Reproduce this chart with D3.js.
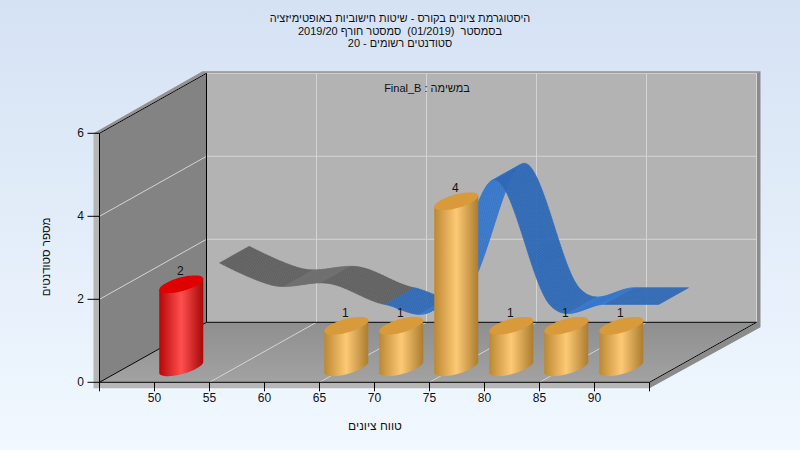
<!DOCTYPE html>
<html><head><meta charset="utf-8">
<script src="https://cdn.jsdelivr.net/npm/d3@7/dist/d3.min.js"></script>
<style>html,body{margin:0;padding:0;background:#eef6ff}svg{display:block}text{font-family:"Liberation Sans",Arial,sans-serif;fill:#111;white-space:pre}</style>
</head><body><svg id="c" width="800" height="450"></svg>
<script>
const categories=[50,55,60,65,70,75,80,85,90];
const barValues=[2,0,0,1,1,4,1,1,1];
const ribbonValues=[2,1.45,1.5,1,1,4,1,1,1];
const xTicks=[50,55,60,65,70,75,80,85,90];
const xTickMarks=[45,50,55,60,65,70,75,80,85,90,95];
const xGrid=[55,65,75,85,95];
const yTicks=[0,2,4,6];
const titleLines=["היסטוגרמת ציונים בקורס - שיטות חישוביות באופטימיזציה","בסמסטר  (01/2019)  סמסטר חורף 2019/20","סטודנטים רשומים - 20"];
const subTitle="במשימה : Final_B";
const xLabel="טווח ציונים";
const yLabel="מספר סטודנטים";

const DX=107,DY=-60;
const x=d3.scaleLinear().domain([45,95]).range([99.5,649.5]);
const y=d3.scaleLinear().domain([0,6]).range([382.3,133.3]);
const P=(v,h,z)=>[x(v)+z*DX,y(h)+z*DY];
const svg=d3.select("#c");
const defs=svg.append("defs");
function grad(id,stops,vert){
  const g=defs.append("linearGradient").attr("id",id).attr("x1",0).attr("y1",0).attr("x2",vert?0:1).attr("y2",vert?1:0);
  stops.forEach(s=>g.append("stop").attr("offset",s[0]).attr("stop-color",s[1]));
}
grad("bg",[[0,"#d5e2f4"],[1,"#f1f8ff"]],true);
grad("floor",[[0,"#8f8f8f"],[1,"#a2a2a2"]],true);
grad("gold",[[0,"#bd8832"],[0.5,"#fdc975"],[1,"#ac7d30"]]);
grad("red",[[0,"#b80606"],[0.5,"#ff4f4f"],[1,"#a80808"]]);
svg.append("rect").attr("width",800).attr("height",450).attr("fill","url(#bg)");
const poly=(pts,fill,stroke)=>svg.append("polygon").attr("points",pts.map(p=>p.join(",")).join(" ")).attr("fill",fill).attr("stroke",stroke||"none");
const seg=(a,b,c,w)=>svg.append("line").attr("x1",a[0]).attr("y1",a[1]).attr("x2",b[0]).attr("y2",b[1]).attr("stroke",c).attr("stroke-width",w||1);

const [x0,x1]=x.domain(),[y0,y1]=[0,6];
// outer frame bands
poly([[x(x0)-6,y(y0)+6],[x(x1),y(y0)+6],[x(x1),y(y0)],[x(x0),y(y0)],[x(x0),y(y1)],[x(x0)-6,y(y1)]],"#b6b6b6");
poly([[x(x0)-6,y(y1)],[P(x0,y1,1)[0]-4,P(x0,y1,1)[1]-2],[P(x1,y1,1)[0]+4,P(x1,y1,1)[1]-2],[P(x1,y1,1)[0],P(x1,y1,1)[1]],[P(x0,y1,1)[0],P(x0,y1,1)[1]],[x(x0),y(y1)]],"#929292");
poly([[P(x1,y1,1)[0],P(x1,y1,1)[1]],[P(x1,y1,1)[0]+4,P(x1,y1,1)[1]-2],[P(x1,y0,1)[0]+4,P(x1,y0,1)[1]+5],[x(x1),y(y0)+6],[x(x1),y(y0)],[P(x1,y0,1)[0],P(x1,y0,1)[1]]],"#8b8b8b");
// walls
poly([P(x0,y0,1),P(x1,y0,1),P(x1,y1,1),P(x0,y1,1)],"#b3b3b3");
poly([P(x0,y0,0),P(x0,y0,1),P(x0,y1,1),P(x0,y1,0)],"#838383");
poly([P(x0,y0,0),P(x1,y0,0),P(x1,y0,1),P(x0,y0,1)],"url(#floor)");
// grid
const gc="#d4d4d4";
yTicks.forEach(t=>{ if(t>0){seg(P(x0,t,1),P(x1,t,1),gc);seg(P(x0,t,0),P(x0,t,1),gc);} });
xGrid.forEach(v=>{seg(P(v,0,1),P(v,y1,1),gc);seg(P(v,0,0),P(v,0,1),gc);});
// wall edges
seg(P(x0,y0,1),P(x1,y0,1),"#000");
seg(P(x0,y0,1),P(x0,y1,1),"#000");
seg(P(x0,y1,0),P(x0,y1,1),"#000");
seg(P(x0,y0,0),P(x0,y0,1),"#000");
seg(P(x1,y0,0),P(x1,y0,1),"#000");
seg(P(x0,y0,0),P(x0,y1,0),"#000");
seg(P(x0,y0,0),P(x1,y0,0),"#000");
// axes ticks
xTickMarks.forEach(v=>seg([x(v),y(0)],[x(v),y(0)+9],"#000"));
yTicks.forEach(t=>seg([x(x0)-12,y(t)],[x(x0),y(t)],"#000"));
xTicks.forEach(v=>svg.append("text").attr("x",x(v)).attr("y",402).attr("text-anchor","middle").attr("font-size",12).text(v));
yTicks.forEach(t=>svg.append("text").attr("x",84).attr("y",y(t)+3.5).attr("text-anchor","end").attr("font-size",12).text(t));
// ribbon
const zF=0.607,zB=0.885;
const lineGen=d3.line().curve(d3.curveCardinal.tension(0));
const front=categories.map((c,i)=>P(c,ribbonValues[i],zF));
const tmp=svg.append("path").attr("d",lineGen(front)).attr("fill","none");
const L=tmp.node().getTotalLength();
const off=[(zB-zF)*DX,(zB-zF)*DY];
const breakX=P(65,0,zF)[0];
const pts=d3.range(0,L+1,1.5).map(s=>{const p=tmp.node().getPointAtLength(Math.min(s,L));return [p.x,p.y];});
tmp.remove();
for(let i=0;i<pts.length-1;i++){
  const a=pts[i],b=pts[i+1];
  const rising=b[1]<a[1]-0.002;
  const grey=a[0]<breakX;
  const col=grey?(rising?"#6c6c6c":"#616161"):(rising?"#3577cc":"#2f6ab7");
  poly([a,b,[b[0]+off[0],b[1]+off[1]],[a[0]+off[0],a[1]+off[1]]],col,col).attr("stroke-width",0.4);
}
// bars
const zBar=0.25,hw=x(47)-x(45),A=5.5,B=7;
const ell=(cx,cy,t)=>[cx+hw*Math.cos(t),cy-A*Math.cos(t)+B*Math.sin(t)];
const outline=d3.line();
categories.forEach((c,i)=>{
  const v=barValues[i]; if(!v) return;
  const isRed=c===50;
  const [cx,by]=P(c,0,zBar); const [,ty]=P(c,v,zBar);
  const lower=d3.range(0,37).map(k=>ell(cx,by,Math.PI-k*Math.PI/36));
  const body=[ell(cx,ty,Math.PI),...lower,ell(cx,ty,0)];
  svg.append("path").attr("d",outline(body)+"Z").attr("fill",isRed?"url(#red)":"url(#gold)");
  const cap=d3.range(0,73).map(k=>ell(cx,ty,k*Math.PI/36));
  svg.append("path").attr("d",outline(cap)+"Z").attr("fill",isRed?"#df0000":"#d89a3a");
  svg.append("text").attr("x",cx-1).attr("y",ty-9).attr("text-anchor","middle").attr("font-size",12).text(v);
});
// titles
const rtl=(s,xp,yp,fs)=>svg.append("text").attr("x",xp).attr("y",yp).attr("text-anchor","middle").attr("direction","rtl").attr("font-size",fs).text(s);
titleLines.forEach((s,i)=>rtl(s,400,22+i*12.5,11));
rtl(subTitle,427,92,11);
rtl(xLabel,375,430,12);
svg.append("text").attr("transform","translate(50,257) rotate(-90)").attr("text-anchor","middle").attr("direction","rtl").attr("font-size",11.5).text(yLabel);
</script></body></html>
